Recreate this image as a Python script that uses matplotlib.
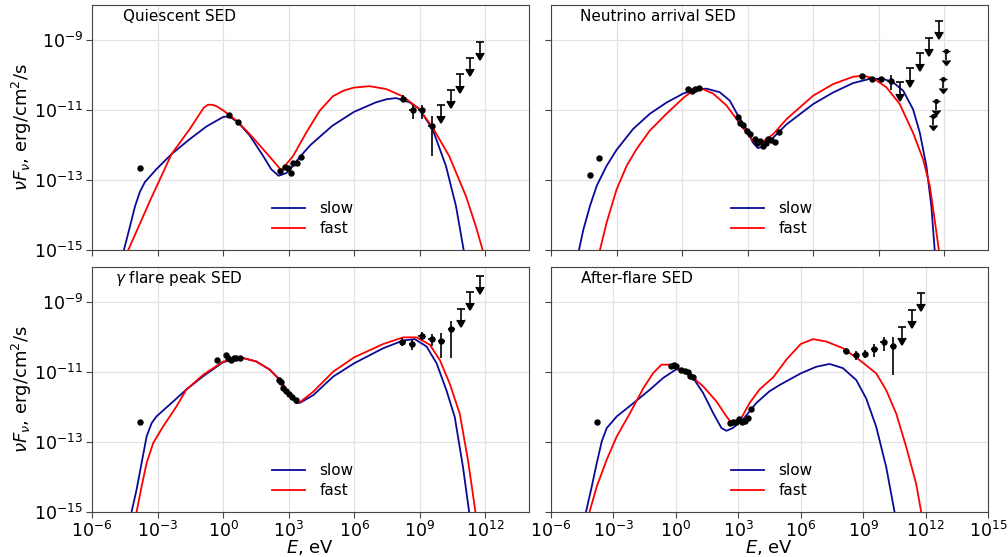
import numpy as np
import matplotlib
matplotlib.use("Agg")
import matplotlib.pyplot as plt

# ---------------- data (log10 E [eV], log10 nuFnu [erg/cm2/s]) ----------------
panel_titles = ["Quiescent SED", "Neutrino arrival SED", r"$\gamma$ flare peak SED", "After-flare SED"]
series_labels = ["slow", "fast"]

# Panel A: Quiescent
qa_slow_logE = [-4.54, -4.26, -4.03, -3.81, -3.58, -3.05, -2.36, -1.52, -0.76, 0.0, 0.27, 0.68, 1.22, 1.83, 2.2,
                2.54, 2.9, 3.2, 3.5, 4.0, 5.0, 6.0, 7.0, 7.5, 7.92, 8.53, 8.98, 9.59, 10.2, 10.66, 11.01]
qa_slow_logF = [-15, -14.32, -13.75, -13.34, -13.06, -12.69, -12.26, -11.83, -11.47, -11.2, -11.18, -11.35, -11.73,
                -12.31, -12.69, -12.88, -12.8, -12.6, -12.35, -12.0, -11.45, -11.05, -10.78, -10.69, -10.66, -10.78,
                -10.97, -11.55, -12.6, -13.75, -15]
qa_fast_logE = [-4.34, -3.35, -2.36, -1.52, -1.07, -0.88, -0.69, -0.5, -0.31, 0.0, 0.61, 1.22, 1.83, 2.36, 2.66, 3.2,
                3.81, 4.42, 5.02, 5.5, 5.98, 6.70, 7.46, 8.22, 8.98, 9.59, 10.35, 11.12, 11.57, 11.88]
qa_fast_logF = [-15, -13.6, -12.26, -11.54, -11.11, -10.93, -10.85, -10.85, -10.89, -11.01, -11.3, -11.69, -12.12,
                -12.5, -12.72, -12.32, -11.64, -11.02, -10.61, -10.45, -10.36, -10.32, -10.40, -10.61, -10.97, -11.5,
                -12.32, -13.47, -14.33, -15]
qa_pts_logE = [-3.81, 0.27, 0.68, 2.59, 2.82, 2.98, 3.12, 3.2, 3.4, 3.58]
qa_pts_logF = [-12.67, -11.13, -11.34, -12.75, -12.63, -12.65, -12.8, -12.5, -12.5, -12.33]
qa_gam_logE = [8.24, 8.67, 9.09, 9.55]
qa_gam_logF = [-10.68, -11.01, -11.01, -11.45]
qa_gam_dlo = [0.1, 0.26, 0.26, 0.86]
qa_gam_dhi = [0.1, 0.15, 0.15, 0.27]
qa_ul_logE = [9.97, 10.43, 10.86, 11.31, 11.74]
qa_ul_logF = [-10.86, -10.42, -9.98, -9.52, -9.06]

# Panel B: Neutrino arrival
nb_slow_logE = [-4.72, -4.52, -4.22, -3.91, -3.46, -3.0, -2.24, -1.48, -0.72, 0.05, 0.65, 1.11, 1.72, 2.18, 2.56,
                2.94, 3.24, 3.47, 3.78, 4.17, 4.78, 6.0, 6.91, 7.83, 8.59, 9.2, 9.66, 10.12, 10.57, 10.88, 11.18,
                11.41, 11.56]
nb_slow_logF = [-15, -14.42, -13.75, -13.17, -12.6, -12.14, -11.54, -11.11, -10.79, -10.53, -10.41, -10.39, -10.49,
                -10.73, -11.16, -11.54, -11.93, -12.09, -12.02, -11.79, -11.41, -10.83, -10.5, -10.23, -10.11,
                -10.11, -10.21, -10.45, -10.98, -11.65, -12.6, -13.76, -15]
nb_fast_logE = [-3.76, -3.46, -3.0, -2.54, -2.09, -1.48, -0.72, 0.05, 0.5, 0.81, 1.42, 2.03, 2.48, 2.94, 3.24, 3.55,
                4.17, 4.78, 6.0, 6.91, 7.83, 8.29, 8.74, 9.35, 9.96, 10.57, 11.03, 11.34, 11.56, 11.75]
nb_fast_logF = [-15, -14.23, -13.27, -12.6, -12.12, -11.59, -11.11, -10.66, -10.44, -10.37, -10.53, -10.87, -11.25,
                -11.64, -11.88, -11.97, -11.69, -11.26, -10.59, -10.26, -10.05, -10.02, -10.09, -10.35, -10.83,
                -11.65, -12.41, -13.18, -14.14, -15]
nb_pts_logE = [-4.22, -3.81, 0.27, 0.47, 0.61, 0.76, 2.57, 2.64, 2.77, 2.95, 3.1, 3.33, 3.44, 3.56, 3.71, 3.86,
               3.94, 4.09, 4.24, 4.43]
nb_pts_logF = [-12.87, -12.36, -10.39, -10.45, -10.39, -10.37, -11.21, -11.36, -11.43, -11.6, -11.69, -11.84,
               -11.95, -11.88, -12.03, -11.95, -11.82, -11.86, -11.91, -11.64]
nb_gam_logE = [8.24, 8.67, 9.09, 9.55]
nb_gam_logF = [-10.04, -10.11, -10.11, -10.18]
nb_gam_dlo = [0.06, 0.06, 0.06, 0.25]
nb_gam_dhi = [0.06, 0.06, 0.06, 0.17]
nb_ul_logE = [9.99, 10.42, 10.88, 11.3, 11.75]
nb_ul_logF = [-10.21, -9.81, -9.36, -8.94, -8.45]
nb_vhe_ul_logE = [11.48, 11.64, 11.95, 12.09]
nb_vhe_ul_logF = [-11.16, -10.74, -10.11, -9.3]

# Panel C: gamma flare peak
gc_slow_logE = [-4.19, -3.96, -3.73, -3.5, -3.27, -3.05, -2.28, -1.68, -0.91, 0.0, 0.61, 0.91, 1.52, 2.13, 2.59,
                3.05, 3.35, 3.52, 4.13, 5.04, 6.0, 7.33, 8.24, 8.77, 9.31, 9.77, 10.22, 10.6, 10.98, 11.26]
gc_slow_logF = [-15, -14.36, -13.6, -12.84, -12.46, -12.27, -11.84, -11.5, -11.12, -10.72, -10.62, -10.6, -10.7,
                -10.93, -11.22, -11.65, -11.89, -11.88, -11.66, -11.13, -10.75, -10.32, -10.1, -10.06, -10.27,
                -10.75, -11.52, -12.28, -13.72, -15]
gc_fast_logE = [-3.96, -3.73, -3.5, -3.2, -2.74, -2.13, -1.68, -0.91, 0.0, 0.91, 1.52, 2.13, 2.59, 3.05, 3.35, 3.52,
                4.13, 5.04, 6.0, 7.33, 8.24, 8.85, 9.46, 9.92, 10.37, 10.83, 11.21, 11.55]
gc_fast_logF = [-15, -14.27, -13.6, -13.03, -12.55, -11.98, -11.5, -11.08, -10.7, -10.6, -10.7, -10.93, -11.22,
                -11.63, -11.86, -11.86, -11.56, -10.99, -10.58, -10.2, -10.01, -10.01, -10.22, -10.66, -11.33,
                -12.19, -13.53, -15]
gc_pts_logE = [-3.81, -0.26, 0.12, 0.23, 0.38, 0.49, 0.61, 0.79, 2.56, 2.67, 2.74, 2.89, 3.02, 3.14, 3.32]
gc_pts_logF = [-12.43, -10.65, -10.52, -10.6, -10.67, -10.61, -10.6, -10.6, -11.22, -11.29, -11.46, -11.55,
               -11.62, -11.7, -11.79]
gc_gam_logE = [8.21, 8.65, 9.09, 9.55, 9.99, 10.45]
gc_gam_logF = [-10.13, -10.2, -9.97, -10.05, -10.11, -9.78]
gc_gam_dlo = [0.14, 0.17, 0.11, 0.2, 0.5, 0.83]
gc_gam_dhi = [0.1, 0.11, 0.1, 0.14, 0.22, 0.25]
gc_ul_logE = [10.88, 11.32, 11.76]
gc_ul_logF = [-9.2, -8.72, -8.26]

# Panel D: after-flare
ad_slow_logE = [-4.32, -4.04, -3.8, -3.56, -3.32, -2.84, -2.04, -1.24, -0.61, 0.0, 0.35, 0.83, 1.31, 1.79, 2.19,
                2.43, 2.74, 3.22, 3.86, 4.5, 4.99, 6.0, 6.75, 7.39, 8.03, 8.67, 9.15, 9.63, 10.11, 10.51]
ad_slow_logF = [-15, -14.27, -13.6, -12.98, -12.6, -12.27, -11.89, -11.5, -11.17, -10.93, -10.93, -11.17, -11.6,
                -12.17, -12.6, -12.68, -12.6, -12.36, -11.89, -11.55, -11.37, -11.04, -10.85, -10.77, -10.89,
                -11.23, -11.76, -12.57, -13.72, -15]
ad_fast_logE = [-4.15, -3.8, -3.32, -2.84, -2.2, -1.56, -1.09, -0.69, -0.29, 0.03, 0.67, 1.31, 1.95, 2.43, 2.66,
                3.06, 3.54, 4.02, 4.68, 5.32, 6.0, 6.59, 7.23, 8.03, 8.83, 9.63, 10.11, 10.59, 11.07, 11.55, 11.79]
ad_fast_logF = [-15, -14.27, -13.5, -12.84, -12.17, -11.46, -11.03, -10.79, -10.79, -10.89, -11.08, -11.41,
                -11.84, -12.27, -12.44, -12.41, -11.89, -11.5, -11.15, -10.64, -10.2, -10.06, -10.13, -10.32,
                -10.66, -11.04, -11.52, -12.19, -13.14, -14.2, -15]
ad_pts_logE = [-3.8, -0.24, -0.1, 0.0, 0.27, 0.43, 0.56, 0.7, 0.8, 2.58, 2.74, 2.9, 3.03, 3.19, 3.3, 3.46, 3.62]
ad_pts_logF = [-12.43, -10.84, -10.79, -10.82, -10.93, -10.96, -11.0, -11.1, -11.14, -12.46, -12.44, -12.44,
               -12.34, -12.44, -12.41, -12.3, -12.06]
ad_gam_logE = [8.19, 8.64, 9.09, 9.54, 9.98, 10.43]
ad_gam_logF = [-10.4, -10.51, -10.49, -10.35, -10.14, -10.27]
ad_gam_dlo = [0.09, 0.14, 0.11, 0.21, 0.25, 0.81]
ad_gam_dhi = [0.1, 0.12, 0.12, 0.15, 0.15, 0.27]
ad_ul_logE = [10.88, 11.33, 11.76]
ad_ul_logF = [-9.7, -9.22, -8.74]

x_ticks = [1e-6, 1e-3, 1e0, 1e3, 1e6, 1e9, 1e12, 1e15]
y_ticks = [1e-15, 1e-13, 1e-11, 1e-9]

panels = [
    dict(slow=(qa_slow_logE, qa_slow_logF), fast=(qa_fast_logE, qa_fast_logF), pts=(qa_pts_logE, qa_pts_logF),
         gam=(qa_gam_logE, qa_gam_logF, qa_gam_dlo, qa_gam_dhi), ul=(qa_ul_logE, qa_ul_logF), vhe=None,
         xmax=1e14, tx=0.07),
    dict(slow=(nb_slow_logE, nb_slow_logF), fast=(nb_fast_logE, nb_fast_logF), pts=(nb_pts_logE, nb_pts_logF),
         gam=(nb_gam_logE, nb_gam_logF, nb_gam_dlo, nb_gam_dhi), ul=(nb_ul_logE, nb_ul_logF),
         vhe=(nb_vhe_ul_logE, nb_vhe_ul_logF), xmax=1e14, tx=0.066),
    dict(slow=(gc_slow_logE, gc_slow_logF), fast=(gc_fast_logE, gc_fast_logF), pts=(gc_pts_logE, gc_pts_logF),
         gam=(gc_gam_logE, gc_gam_logF, gc_gam_dlo, gc_gam_dhi), ul=(gc_ul_logE, gc_ul_logF), vhe=None,
         xmax=1e14, tx=0.053),
    dict(slow=(ad_slow_logE, ad_slow_logF), fast=(ad_fast_logE, ad_fast_logF), pts=(ad_pts_logE, ad_pts_logF),
         gam=(ad_gam_logE, ad_gam_logF, ad_gam_dlo, ad_gam_dhi), ul=(ad_ul_logE, ad_ul_logF), vhe=None,
         xmax=1e15, tx=0.069),
]

# ---------------- figure ----------------
fig = plt.figure(figsize=(10.08, 5.57), dpi=100)
W, H = 1008.0, 557.0
boxes = [(92, 5), (551, 5), (92, 267), (551, 267)]
aw, ah = 437, 245

slow_color = "#0a0a96"
fast_color = "red"

for i, (p, (x0, y0)) in enumerate(zip(panels, boxes)):
    ax = fig.add_axes([x0 / W, 1 - (y0 + ah) / H, aw / W, ah / H])
    ax.set_xscale("log")
    ax.set_yscale("log")
    ax.grid(True, color="#e2e2e2", lw=0.9)
    ax.set_axisbelow(True)

    le, lf = p["slow"]
    ax.plot(10 ** np.array(le), 10 ** np.array(lf), color=slow_color, lw=1.3, label=series_labels[0], zorder=2)
    le, lf = p["fast"]
    ax.plot(10 ** np.array(le), 10 ** np.array(lf), color=fast_color, lw=1.3, label=series_labels[1], zorder=2)

    le, lf = p["pts"]
    E = 10 ** np.array(le); F = 10 ** np.array(lf)
    ax.errorbar(E, F, xerr=[E - E * 10 ** -0.04, E * 10 ** 0.04 - E], yerr=[F - F * 10 ** -0.04, F * 10 ** 0.04 - F],
                fmt="o", color="black", ms=3.6, lw=1.0, capsize=0, zorder=3)

    le, lf, dlo, dhi = p["gam"]
    E = 10 ** np.array(le); F = 10 ** np.array(lf)
    ylo = F - F * 10 ** -np.array(dlo)
    yhi = F * 10 ** np.array(dhi) - F
    ax.errorbar(E, F, xerr=[E - E * 10 ** -0.15, E * 10 ** 0.15 - E], yerr=[ylo, yhi],
                fmt="o", color="black", ms=3.6, lw=1.2, capsize=0, zorder=3)

    le, lf = p["ul"]
    E = 10 ** np.array(le); F = 10 ** np.array(lf)
    ax.errorbar(E, F, yerr=F * (1 - 10 ** -0.32), uplims=True, fmt="none", color="black", ecolor="black",
                lw=1.2, capsize=3.2, capthick=1.2, zorder=3)

    if p["vhe"] is not None:
        le, lf = p["vhe"]
        E = 10 ** np.array(le); F = 10 ** np.array(lf)
        ax.errorbar(E, F, yerr=F * (1 - 10 ** -0.27), uplims=True, fmt="o", ms=2.6, color="black",
                    ecolor="black", lw=1.2, capsize=2.6, capthick=1.0, zorder=3)

    ax.set_xlim(1e-6, p["xmax"])
    ax.set_ylim(1e-15, 1e-8)
    ax.set_xticks([t for t in x_ticks if t <= p["xmax"]])
    ax.set_yticks(y_ticks)
    ax.minorticks_off()
    ax.tick_params(labelsize=12.5, length=4, pad=2.5, color="#444444")
    for s in ax.spines.values():
        s.set_color("#444444")

    if i in (0, 1):
        ax.tick_params(labelbottom=False)
    else:
        ax.set_xlabel(r"$E$, eV", fontsize=13, labelpad=-2)
    if i in (1, 3):
        ax.tick_params(labelleft=False)
    else:
        ax.set_ylabel(r"$\nu F_\nu$, erg/cm$^2$/s", fontsize=13, labelpad=0)

    ax.text(p["tx"], 0.955, panel_titles[i], transform=ax.transAxes, fontsize=11, va="center", ha="left")
    ax.legend(loc="lower left", bbox_to_anchor=(0.38, 0.0), frameon=False, fontsize=11,
              handlelength=2.2, handletextpad=0.9, labelspacing=0.35)

fig.savefig("out.png", dpi=100)
